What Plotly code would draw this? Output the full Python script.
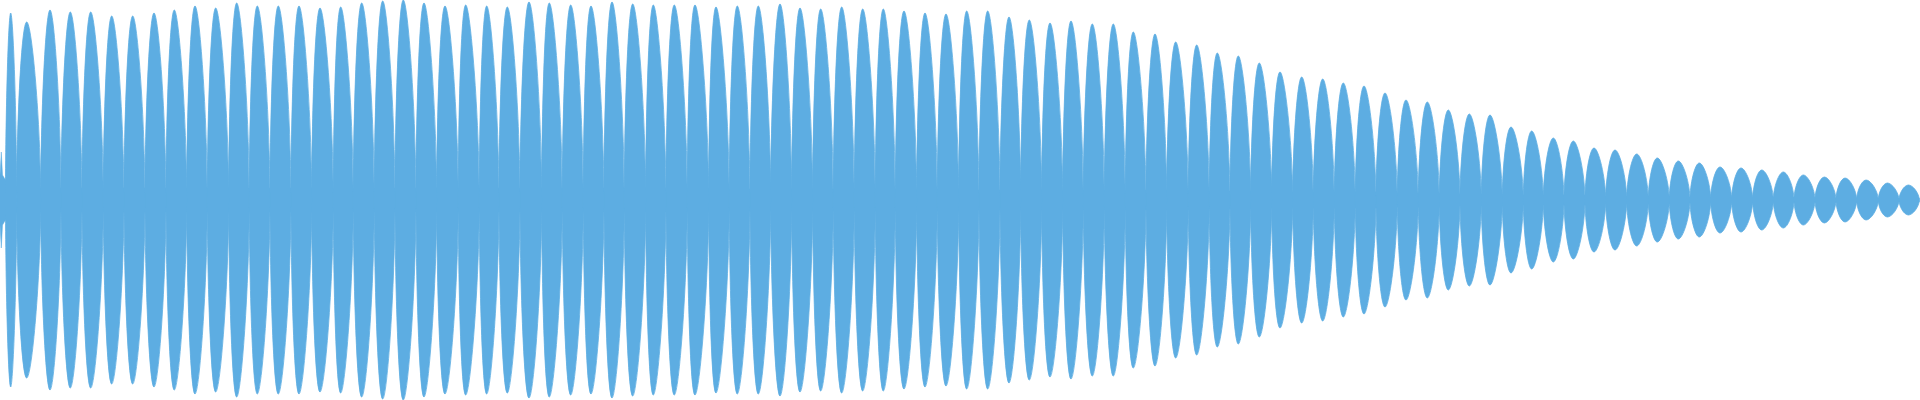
import plotly.graph_objects as go

# Lobe peaks (x position in samples/pixels, amplitude)
peak_x = [10.7, 26.7, 50, 70.3, 90.7, 111.7, 132.7, 154, 174.3, 195, 215.7, 236.7,
          257.3, 278.3, 299, 320, 340.7, 361.7, 382.7, 403.3, 424, 445, 465.7,
          486.7, 507.3, 529, 549.3, 570.7, 591, 612, 632.7, 653.3, 674.3, 695, 716,
          737.3, 758.3, 780, 800, 820.7, 841.7, 862.7, 883.3, 904, 925, 946,
          966.7, 987.7, 1009, 1029.3, 1050, 1071, 1092.3, 1113.3, 1133.3, 1155, 1175.7, 1196.7,
          1217.3, 1238.3, 1259.3, 1280, 1301.7, 1322.7, 1343.3, 1364, 1385, 1406, 1427.3,
          1448.3, 1469.3, 1490, 1511, 1531.7, 1553.3, 1573.3, 1594, 1615, 1636.7, 1657.3, 1678.3,
          1699.3, 1720, 1741, 1761.7, 1783.3, 1803.3, 1824.3, 1845, 1866, 1887.3, 1908.3]
peak_amp = [187, 178, 190, 188, 188, 184, 184, 187, 190, 194, 192, 197,
            194, 194, 194, 192, 193, 197, 199, 200, 197, 194, 195,
            194, 193, 198, 197, 195, 194, 198, 196, 195, 195, 195, 193,
            194, 194, 196, 192, 191, 193, 191, 191, 189, 187, 186,
            189, 189, 183, 180, 177, 179, 176, 176, 168, 166, 158, 155,
            147, 144, 137, 128, 123, 121, 117, 114, 107, 100, 98,
            90, 86, 85, 73, 69, 62, 59, 52, 50, 46, 42, 39,
            37, 33, 32, 30, 28, 25, 23, 22, 20, 17, 15]

# Zero-crossing points between lobes (x position, residual band half-height)
valley_x = [16.7, 40.7, 61, 82, 103.3, 124, 145, 166, 186.7, 207.3, 228.7,
            249.3, 270, 291, 311.7, 333.3, 353.3, 374.3, 395, 416, 436.7, 458.3, 479.3,
            499, 520, 541.7, 562.3, 583.3, 604, 624.3, 645.7, 666, 687.3, 708.7,
            729.3, 750, 770.7, 791.7, 812.7, 833.3, 854.3, 875.3, 895.3, 916.7, 937.3, 958.7,
            979, 1000, 1020.7, 1041.7, 1062.7, 1083.3, 1104.3, 1125.3, 1146, 1166.7, 1188.3,
            1209.3, 1230, 1250.7, 1271.7, 1292.7, 1313.3, 1334.3, 1355.3, 1376, 1397.3, 1418.3, 1439.3,
            1460, 1481.3, 1502.3, 1523.3, 1543.3, 1564, 1585, 1605.7, 1626.7, 1648.3, 1669.3,
            1690, 1710.7, 1731.7, 1752.7, 1773.3, 1794, 1815, 1836, 1856.7, 1878.3, 1899, 1919.3]
valley_band = [12, 12, 12, 12, 12, 12, 12, 12, 12, 12, 12,
               12, 12, 12, 12, 12, 12, 12, 12, 12, 12, 12, 12,
               12, 12, 12, 12, 12, 12, 12, 12, 12, 12, 12,
               11, 11, 11, 11, 11, 11, 11, 11, 11, 11, 11, 11,
               10, 10, 10, 10, 10, 10, 10, 10, 10, 10, 10,
               9, 9, 9, 8, 8, 8, 8, 8, 8, 7, 7, 7,
               6, 6, 6, 5, 5, 5, 5, 4, 4, 4, 4,
               3, 3, 3, 3, 2.5, 2.5, 2.5, 2, 2, 2, 2, 2]

# Leading noise at the very start of the clip
lead_x = [0, 1.3, 2.5, 5.5]
lead_amp = [25, 48, 25, 20]

COLOR = "#5DADE2"

# Lobes: each one a closed outline (left zero, top peak, right zero, bottom peak)
lx, ly = [], []
prev_x = lead_x[-1]
for px, pa, vx in zip(peak_x, peak_amp, valley_x):
    lx += [prev_x, px, vx, px, prev_x, None]
    ly += [0, pa, 0, -pa, 0, None]
    prev_x = vx

# Residual band around the centre line
bx = lead_x + valley_x
bb = lead_amp + valley_band
band_x = bx + bx[::-1]
band_y = bb + [-v for v in bb[::-1]]

fig = go.Figure()
fig.add_trace(go.Scatter(
    x=band_x, y=band_y, mode="lines",
    line=dict(color=COLOR, width=0.5),
    fill="toself", fillcolor=COLOR,
    hoverinfo="skip", showlegend=False,
))
fig.add_trace(go.Scatter(
    x=lx, y=ly, mode="lines",
    line=dict(color=COLOR, width=0.8, shape="spline", smoothing=1.3),
    fill="toself", fillcolor=COLOR,
    connectgaps=False, hoverinfo="skip", showlegend=False,
))

fig.update_layout(
    width=1920, height=400,
    margin=dict(l=0, r=0, t=0, b=0),
    paper_bgcolor="white", plot_bgcolor="white",
    xaxis=dict(range=[0, 1920], visible=False, fixedrange=True),
    yaxis=dict(range=[-200, 200], visible=False, fixedrange=True),
    showlegend=False,
)

fig.write_html(
    "out.html",
    config={"displayModeBar": False},
    post_script="document.body.style.margin='0';document.body.style.overflow='hidden';",
)
